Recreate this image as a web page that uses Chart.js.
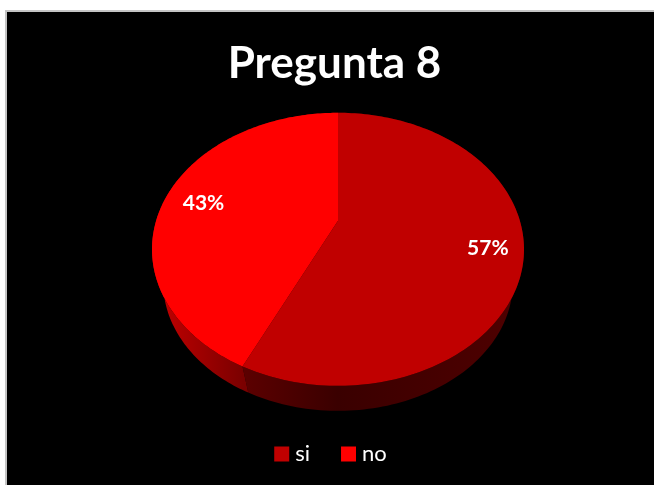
<!DOCTYPE html>
<html>
<head>
<meta charset="utf-8">
<style>
  html, body { margin: 0; padding: 0; background: #fff; }
  canvas { display: block; }
</style>
<script src="https://cdn.jsdelivr.net/npm/chart.js@4"></script>
</head>
<body>
<canvas id="chart" width="654" height="485"></canvas>
<script>
const categories = ['si', 'no'];
const values = [57, 43];
const sliceColors = ['#c00000', '#ff0000'];
const chartTitle = 'Pregunta 8';

// Tilted-disc projection: a unit circle seen in perspective.
const FLATTEN = 0.734;   // vertical / horizontal radius of the top face
const TILT = -0.209;     // perspective strength, moves the apex towards the back
const DEPTH_SCALE = 0.94;  // the lower rim is further away, so slightly smaller
const DEPTH_DROP = 33.2;   // downward shift of the lower rim centre

function project(arc, angle, fraction, lower) {
  const rx = arc.outerRadius;
  const ry = rx * FLATTEN;
  const u = Math.cos(angle) * fraction;
  const v = Math.sin(angle) * fraction;
  const w = 1 + TILT * v;
  const s = lower ? DEPTH_SCALE : 1;
  const x = rx * Math.sqrt(1 - TILT * TILT) * u / w;
  const y = ry * (v + TILT) / w;
  return { x: arc.x + x * s, y: arc.y + (lower ? DEPTH_DROP : 0) + y * s };
}

function traceRim(ctx, arc, from, to, lower) {
  const steps = 160;
  for (let i = 0; i <= steps; i++) {
    const p = project(arc, from + (to - from) * i / steps, 1, lower);
    ctx.lineTo(p.x, p.y);
  }
}

const wallStops = [
  [[0, '#5c0000'], [0.35, '#3a0000'], [1, '#4e0000']],
  [[0, '#bc0000'], [1, '#7a0000']]
];
const wallSpans = [[244, 512], [165, 244]];

const pie3d = {
  id: 'pie3d',
  beforeDraw(chart) {
    const { ctx, width, height } = chart;
    ctx.save();
    ctx.fillStyle = '#ffffff';
    ctx.fillRect(0, 0, width, height);
    ctx.fillStyle = '#c4c4c4';
    ctx.fillRect(5, 10, width - 5, height - 10);
    ctx.fillStyle = '#000000';
    ctx.fillRect(7, 12, width - 7, height - 12);
    ctx.restore();
  },
  afterLayout(chart) {
    // Title and legend sit a little left of the pie's centre line.
    chart.titleBlock.left -= 3.5;
    chart.titleBlock.right -= 3.5;
    chart.titleBlock.top += 1.5;
    chart.titleBlock.bottom += 1.5;
    chart.legend.left -= 5;
    chart.legend.right -= 5;
    chart.legend.top -= 10;
    chart.legend.bottom -= 10;
  },
  beforeDatasetsDraw(chart) {
    const { ctx } = chart;
    const arcs = chart.getDatasetMeta(0).data;
    ctx.save();

    // side walls, between the upper and lower rims
    arcs.forEach((arc, i) => {
      const grad = ctx.createLinearGradient(wallSpans[i][0], 0, wallSpans[i][1], 0);
      wallStops[i].forEach(s => grad.addColorStop(s[0], s[1]));
      ctx.fillStyle = grad;
      ctx.beginPath();
      traceRim(ctx, arc, arc.startAngle, arc.endAngle, false);
      traceRim(ctx, arc, arc.endAngle, arc.startAngle, true);
      ctx.closePath();
      ctx.fill();
    });

    // top face
    arcs.forEach((arc, i) => {
      const apex = project(arc, 0, 0, false);
      ctx.fillStyle = sliceColors[i];
      ctx.beginPath();
      ctx.moveTo(apex.x, apex.y);
      traceRim(ctx, arc, arc.startAngle, arc.endAngle, false);
      ctx.closePath();
      ctx.fill();
    });

    // percentage labels
    ctx.fillStyle = '#ffffff';
    ctx.font = 'bold 21px Lato';
    ctx.textAlign = 'center';
    ctx.textBaseline = 'middle';
    arcs.forEach((arc, i) => {
      const mid = (arc.startAngle + arc.endAngle) / 2;
      const p = project(arc, mid, 0.8, false);
      ctx.fillText(values[i] + '%', p.x + 2.5, p.y + 4);
    });
    ctx.restore();
    return false;
  }
};

new Chart(document.getElementById('chart'), {
  type: 'pie',
  data: {
    labels: categories,
    datasets: [{ data: values, backgroundColor: sliceColors, borderWidth: 0, radius: 186 }]
  },
  plugins: [pie3d],
  options: {
    responsive: false,
    animation: false,
    events: [],
    layout: { padding: { left: 22, right: 0, top: 0, bottom: 0 } },
    plugins: {
      tooltip: { enabled: false },
      title: {
        display: true,
        text: chartTitle,
        color: '#ffffff',
        font: { family: 'Lato', size: 44, weight: 'bold', lineHeight: 0.8 },
        padding: { top: 44.4, bottom: 2 }
      },
      legend: {
        position: 'bottom',
        labels: {
          color: '#ffffff',
          font: { family: 'Lato', size: 22 },
          boxWidth: 5,
          boxHeight: 5,
          padding: 36,
          generateLabels(chart) {
            return Chart.overrides.pie.plugins.legend.labels.generateLabels(chart).map((item, i) => {
              item.strokeStyle = sliceColors[i];
              item.lineWidth = 10;
              return item;
            });
          }
        }
      }
    }
  }
});
</script>
</body>
</html>
